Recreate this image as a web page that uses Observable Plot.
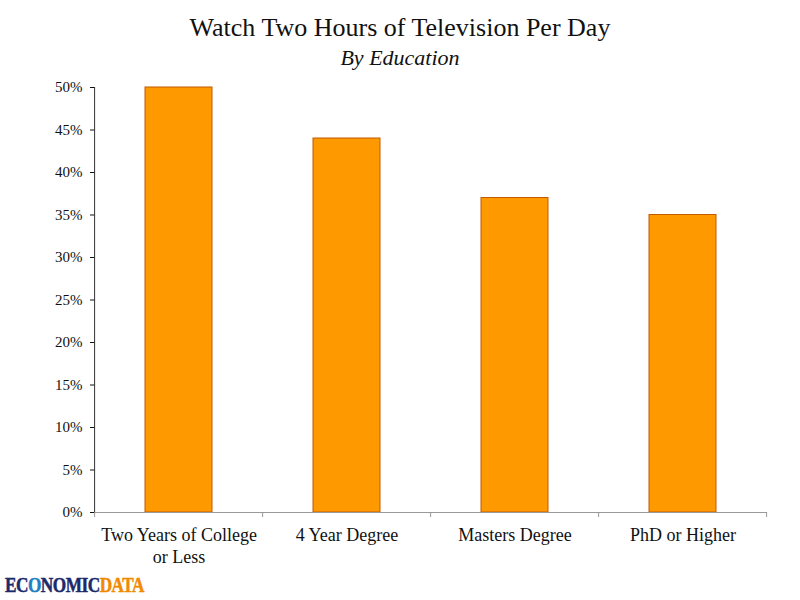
<!DOCTYPE html>
<html>
<head>
<meta charset="utf-8">
<script src="https://cdn.jsdelivr.net/npm/d3@7"></script>
<script src="https://cdn.jsdelivr.net/npm/@observablehq/plot@0.6"></script>
<style>
  html, body { margin: 0; padding: 0; background: #fff; }
  #wrap { position: relative; width: 800px; height: 600px; overflow: hidden; }
  #title { position: absolute; top: 13px; left: 0; width: 800px; text-align: center;
    font-family: "Liberation Serif", "DejaVu Serif", serif; font-size: 26px; color: #111; }
  #subtitle { position: absolute; top: 45px; left: 0; width: 800px; text-align: center;
    font-family: "Liberation Serif", "DejaVu Serif", serif; font-style: italic; font-size: 22px; color: #111; }
  #chart { position: absolute; top: 70px; left: 0; }
  #logo { position: absolute; left: 5px; top: 573px; font-family: "Liberation Serif", serif;
    font-weight: bold; font-size: 21px; letter-spacing: -0.6px; line-height: 24px;
    transform: scaleX(0.82); transform-origin: left top; white-space: nowrap;
    -webkit-text-stroke: 0.5px currentColor; }
  #logo .n { color: #1b2a6b; }
  #logo .g { color: #1f7fc4; }
  #logo .d { color: #f08a00; }
</style>
</head>
<body>
<div id="wrap">
  <div id="title">Watch Two Hours of Television Per Day</div>
  <div id="subtitle">By Education</div>
  <div id="chart"></div>
  <div id="logo"><span class="n">EC</span><span class="g">O</span><span class="n">NOMIC</span><span class="d">DATA</span></div>
</div>
<script>
const categories = ["Two Years of College\nor Less", "4 Year Degree", "Masters Degree", "PhD or Higher"];
const values = [50, 44, 37, 35];
const yTicks = [0, 5, 10, 15, 20, 25, 30, 35, 40, 45, 50];

const data = categories.map((c, i) => ({category: c, value: values[i]}));

const plot = Plot.plot({
  width: 800,
  height: 530,
  marginTop: 17,
  marginBottom: 88,
  marginLeft: 95,
  marginRight: 33,
  style: {fontFamily: "'Liberation Serif', 'DejaVu Serif', serif", fontSize: "15px", color: "#111", background: "#fff"},
  x: {domain: categories, paddingInner: 0.6, paddingOuter: 0.3, align: 0.5, label: null},
  y: {domain: [0, 50], label: null},
  marks: [
    Plot.barY(data, {x: "category", y: "value", fill: "#ff9900", stroke: "#c25a00", strokeWidth: 1}),
    Plot.ruleY([0], {stroke: "#999", strokeWidth: 1}),
    Plot.axisY({ticks: yTicks, tickFormat: d => d + "%", tickSize: 5, tickPadding: 8, label: null, fontSize: 15}),
    Plot.axisX({tickSize: 0, tickPadding: 14, label: null, fontSize: 18, lineHeight: 1.17})
  ]
});

document.getElementById("chart").appendChild(plot);

// Excel-style axis line and boundary ticks, placed with Plot's own scales
const xs = plot.scale("x");
const ys = plot.scale("y");
const svg = d3.select(plot);
const y0 = ys.apply(0);
const yTop = ys.apply(50);
const boundaries = categories.map(c => xs.apply(c) - xs.step * xs.paddingOuter);
boundaries.push(boundaries[boundaries.length - 1] + xs.step);
const firstStart = boundaries[0];

const g = svg.append("g");
g.append("line").attr("x1", firstStart).attr("x2", firstStart).attr("y1", yTop).attr("y2", y0)
  .attr("stroke", "#333").attr("stroke-width", 1);
g.selectAll("line.bt").data(boundaries).join("line").attr("class", "bt")
  .attr("x1", d => d).attr("x2", d => d).attr("y1", y0).attr("y2", y0 + 5)
  .attr("stroke", "#999").attr("stroke-width", 1);
</script>
</body>
</html>
